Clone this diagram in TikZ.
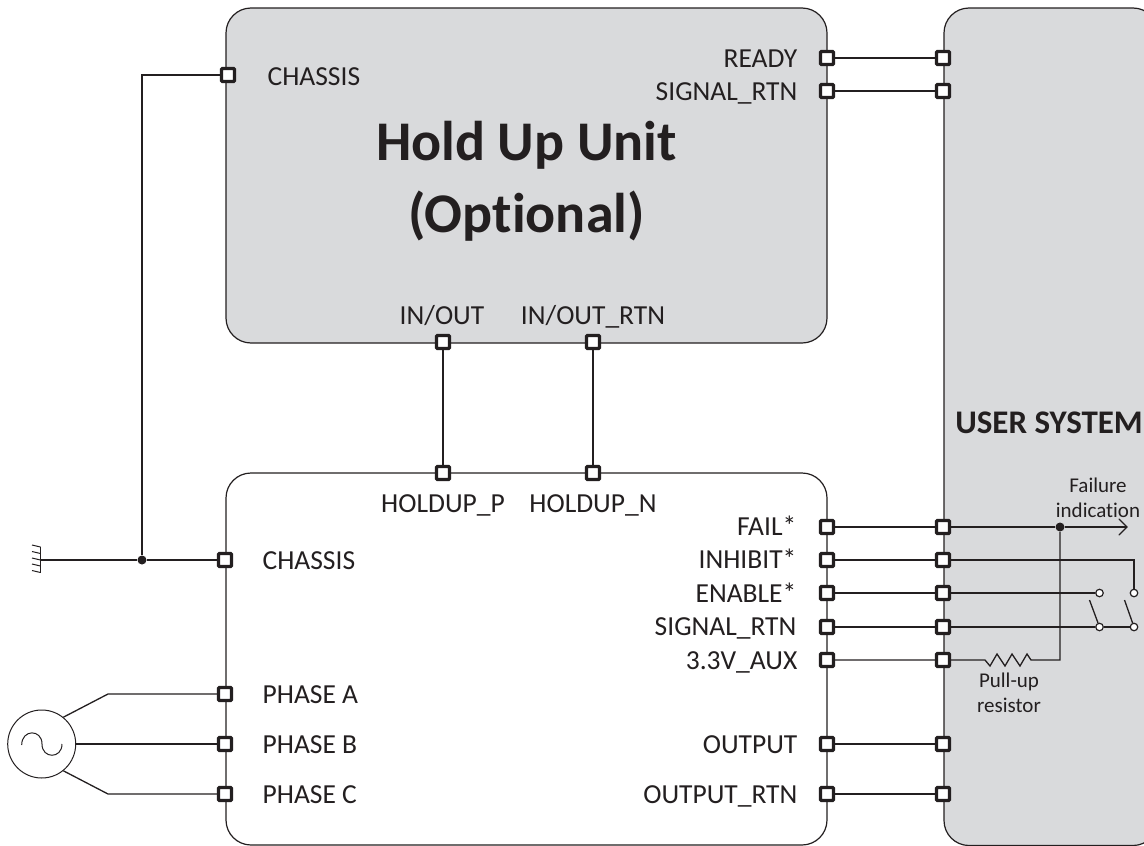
\documentclass[tikz,border=0pt]{standalone}
\usepackage{fontspec}
\setmainfont{Carlito}[Ligatures=CommonOff]
\definecolor{boxgrey}{HTML}{D9DADC}
\definecolor{ink}{HTML}{231F20}
\begin{document}
\begin{tikzpicture}[x=1pt,y=-1pt,line width=1.3pt,draw=ink,text=ink,
  block/.style={draw=ink,line width=1.2pt,rounded corners=25pt},
  pin/.style={draw=ink,fill=white,line width=3.2pt,minimum size=13pt,inner sep=0pt,rectangle,rounded corners=0.8pt},
  wire/.style={draw=ink,line width=1.3pt},
  lbl/.style={font=\fontsize{27.5}{30}\selectfont,inner sep=0pt,anchor=base},
  lblL/.style={lbl,anchor=base west},
  lblR/.style={lbl,anchor=base east},
  small/.style={font=\fontsize{21}{25}\selectfont,inner sep=0pt,align=center},
  dot/.style={circle,fill=ink,draw=none,minimum size=9pt,inner sep=0pt},
  term/.style={circle,fill=white,draw=ink,line width=1.2pt,minimum size=7.5pt,inner sep=0pt}]
\useasboundingbox (0,0) rectangle (1144,846);
\draw[block,fill=boxgrey] (226,8) rectangle (827,343);
\draw[block,fill=white] (226,473) rectangle (827,845);
\draw[block,fill=boxgrey] (1158,845.5) -- (944,845.5) -- (944,8) -- (1158,8) -- cycle;
% titles
\node[inner sep=0pt,font=\fontsize{56}{72}\selectfont\bfseries,align=center] (title) at (526.5,181.5) {Hold Up Unit\\(Optional)};
\node[inner sep=0pt,font=\fontsize{33}{36}\selectfont\bfseries] (user) at (1049,423) {USER SYSTEM};
% pins
\foreach \n/\x/\y in {hc/228/75,pc/225/560,pa/225/694,pb/225/744,pcc/225/794,
  hr/827/58,hs/827/91,ur/943/58,us/943/91,
  hi/443/342,hn/593/342,pi/443/473,pn/593/473,
  fail/827/527,inh/827/560,ena/827/593,srt/827/627,aux/827/660,out/827/744,ort/827/794,
  ufail/943/527,uinh/943/560,uena/943/593,usrt/943/627,uaux/943/660,uout/943/744,uort/943/794}
  \node[pin] (\n) at (\x,\y) {};
% labels
\node[lblL] (l1) at (267,85) {CHASSIS};
\node[lblR] (l2) at (798,67) {READY};
\node[lblR] (l3) at (798,100) {SIGNAL\_RTN};
\node[lbl] (l4) at (442,324) {IN/OUT};
\node[lbl] (l5) at (593,324) {IN/OUT\_RTN};
\node[lbl] (l6) at (443,512) {HOLDUP\_P};
\node[lbl] (l7) at (593,512) {HOLDUP\_N};
\node[lblL] (l8) at (262,569) {CHASSIS};
\node[lblL] (l9) at (262,703) {PHASE A};
\node[lblL] (l10) at (262,753) {PHASE B};
\node[lblL] (l11) at (262,803) {PHASE C};
\node[lblR] (r1) at (797,535) {FAIL*};
\node[lblR] (r2) at (797,568.5) {INHIBIT*};
\node[lblR] (r3) at (797,602) {ENABLE*};
\node[lblR] (r4) at (797,635.5) {SIGNAL\_RTN};
\node[lblR] (r5) at (798,669) {3.3V\_AUX};
\node[lblR] (r6) at (798,753) {OUTPUT};
\node[lblR] (r7) at (798,803) {OUTPUT\_RTN};
\node[small] (fi) at (1098,497.5) {Failure\\indication};
\node[small] (pu) at (1009,692.5) {Pull-up\\resistor};
% straight wires
\draw[wire] (hr) -- (ur);
\draw[wire] (hs) -- (us);
\draw[wire] (hi) -- (pi);
\draw[wire] (hn) -- (pn);
\draw[wire] (out) -- (uout);
\draw[wire] (ort) -- (uort);
% chassis
\coordinate (gnd) at (40,560);
\node[dot] (jc) at (142,560) {};
\draw[wire] (gnd) -- (jc) -- (pc);
\draw[wire] (jc) -- (142,75) -- (hc);
\draw[line width=1pt] (40.5,547) -- (40.5,572.5);
\foreach \y in {547,553.5,560,566,572.5} \draw[line width=1pt] (40.5,\y) -- (32,\y-2);
% source
\node[circle,draw=ink,line width=1pt,minimum size=68pt,inner sep=0pt] (src) at (41.7,744) {};
\draw[line width=1pt] (21.7,745) .. controls (21.7,729) and (42,729) .. (42,744) .. controls (42,759) and (62,759) .. (62,744);
\draw[wire] (src.51) -- (108,694) -- (pa);
\draw[wire] (src) -- (pb);
\draw[wire] (src.-51) -- (108,794) -- (pcc);
% user side circuit
\node[dot] (jf) at (1060,527) {};
\coordinate (ftip) at (1127,527);
\draw[wire] (fail) -- (ufail) -- (jf) -- (ftip);
\draw[wire,line cap=round] (1119,519) -- (ftip) -- (1119,535);
\node[term] (t1) at (1099.5,593) {};
\node[term] (t2) at (1134,593) {};
\node[term] (t3) at (1099.5,627) {};
\node[term] (t4) at (1134,627) {};
\draw[wire] (inh) -- (uinh) -- (1134,560) -- (t2);
\draw[wire] (ena) -- (uena) -- (t1);
\draw[wire] (srt) -- (usrt) -- (t3) -- (t4);
\draw[wire] (t3) -- (1089.5,600);
\draw[wire] (t4) -- (1124.5,600);
\draw[wire] (aux) -- (uaux) -- (985,660) -- (990,666) -- (997,654) -- (1005,666) -- (1012,654) -- (1020,666) -- (1027,654) -- (1031,660) -- (1060,660) -- (jf);
\end{tikzpicture}
\end{document}
